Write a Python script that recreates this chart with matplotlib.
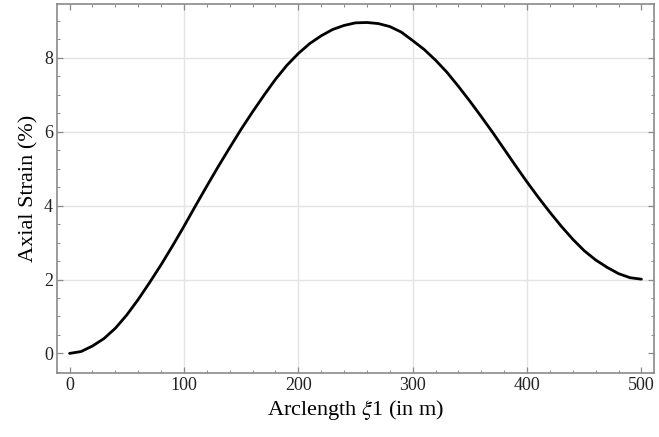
import numpy as np
import matplotlib
matplotlib.use("Agg")
import matplotlib.pyplot as plt
from matplotlib.ticker import MultipleLocator

# values (every 10 m)
arclength = list(range(0, 510, 10))
strain = [0.00, 0.05, 0.20, 0.40, 0.68, 1.04, 1.46, 1.92, 2.40, 2.91,
          3.44, 3.99, 4.53, 5.06, 5.57, 6.07, 6.54, 6.99, 7.42, 7.80,
          8.12, 8.39, 8.60, 8.77, 8.88, 8.95, 8.96, 8.93, 8.85, 8.70,
          8.47, 8.23, 7.94, 7.61, 7.23, 6.83, 6.41, 5.98, 5.53, 5.08,
          4.64, 4.22, 3.82, 3.44, 3.09, 2.78, 2.53, 2.33, 2.16, 2.05,
          2.01]

x_ticks = [0, 100, 200, 300, 400, 500]
y_ticks = [0, 2, 4, 6, 8]

plt.rcParams['font.family'] = ['Liberation Serif', 'DejaVu Serif']
plt.rcParams['mathtext.fontset'] = 'stix'

fig = plt.figure(figsize=(6.59, 4.37), dpi=100)
ax = fig.add_axes([0.0865, 0.1465, 0.9059, 0.8443])

# grid only at interior major ticks
for gx in x_ticks[1:-1]:
    ax.axvline(gx, color='#e3e3e3', lw=1.0, zorder=0)
for gy in y_ticks[1:]:
    ax.axhline(gy, color='#e3e3e3', lw=1.0, zorder=0)

ax.plot(arclength, strain, color='black', lw=2.0, solid_capstyle='round',
        solid_joinstyle='round', zorder=3)

ax.set_xlim(-11, 511)
ax.set_ylim(-0.53, 9.46)
ax.set_xticks(x_ticks)
ax.set_yticks(y_ticks)
ax.xaxis.set_minor_locator(MultipleLocator(20))
ax.yaxis.set_minor_locator(MultipleLocator(0.5))

spine_col = '#8a8a8a'
for s in ax.spines.values():
    s.set_color(spine_col)
    s.set_linewidth(1.2)

ax.tick_params(which='both', direction='in', top=True, right=True,
               color=spine_col, labelsize=13, labelcolor='#222222', pad=3)
ax.tick_params(which='major', length=4, width=0.9)
ax.tick_params(which='minor', length=2.3, width=0.7)

ax.set_xlabel(r'Arclength $\xi$1 (in m)', fontsize=16, labelpad=3)
ax.set_ylabel('Axial Strain (%)', fontsize=16, labelpad=4)

fig.savefig('out.png', dpi=100)
